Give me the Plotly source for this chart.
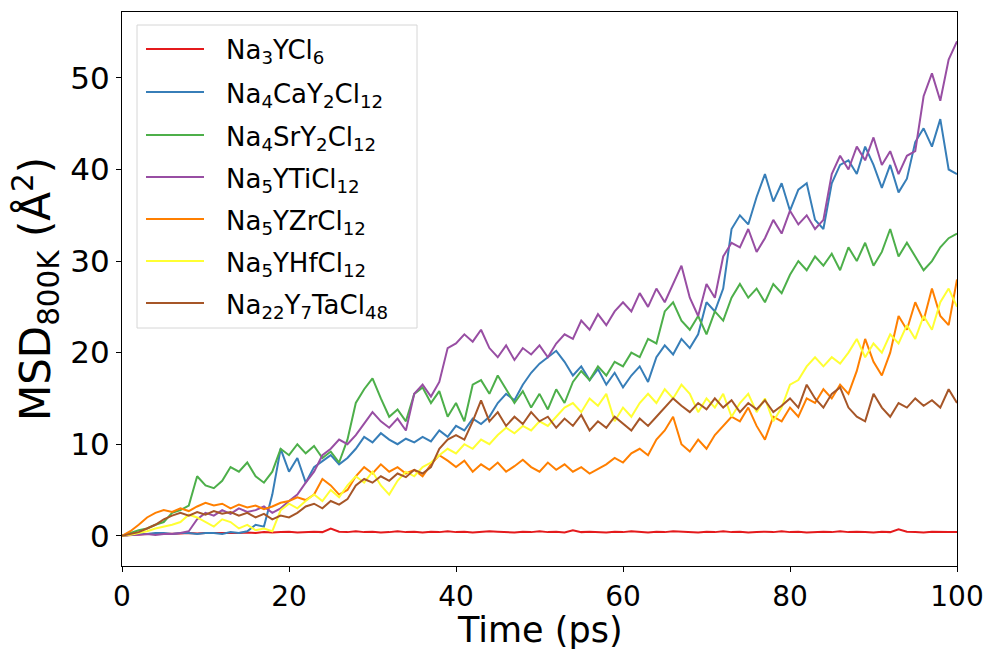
import plotly.graph_objects as go

time_ps = list(range(0, 101))

na3ycl6 = [0.0, 0.1, 0.15, 0.2, 0.2, 0.25, 0.2, 0.25, 0.3, 0.25, 0.3, 0.3, 0.25, 0.3, 0.3, 0.35, 0.3, 0.4, 0.35, 0.4,
           0.45, 0.35, 0.4, 0.45, 0.4, 0.8, 0.45, 0.4, 0.5, 0.4, 0.45, 0.35, 0.4, 0.5, 0.4, 0.45, 0.35, 0.45, 0.4, 0.5,
           0.4, 0.45, 0.35, 0.4, 0.5, 0.45, 0.4, 0.35, 0.45, 0.4, 0.5, 0.4, 0.45, 0.35, 0.6, 0.4, 0.45, 0.4, 0.35, 0.45,
           0.4, 0.5, 0.4, 0.35, 0.45, 0.4, 0.5, 0.45, 0.4, 0.35, 0.45, 0.4, 0.5, 0.4, 0.45, 0.35, 0.4, 0.45, 0.4, 0.5,
           0.4, 0.45, 0.35, 0.4, 0.45, 0.4, 0.5, 0.4, 0.45, 0.4, 0.35, 0.45, 0.4, 0.7, 0.45, 0.4, 0.35, 0.45, 0.4, 0.4, 0.4]

na4cay2cl12 = [0.0, 0.1, 0.2, 0.2, 0.3, 0.3, 0.2, 0.3, 0.3, 0.2, 0.3, 0.3, 0.2, 0.4, 0.3, 0.5, 1.2, 1.0, 4.5, 9.5,
               7.0, 8.5, 5.8, 7.5, 8.2, 8.8, 7.8, 8.5, 9.5, 10.8, 10.2, 11.2, 10.5, 10.0, 10.6, 10.2, 10.8, 10.3, 11.5, 10.8,
               12.0, 11.5, 12.8, 12.2, 13.0, 14.5, 15.5, 14.8, 16.5, 17.8, 18.8, 19.5, 20.2, 19.0, 17.5, 18.5, 17.0, 18.2, 16.5, 17.8,
               16.2, 17.5, 18.5, 16.8, 19.5, 20.8, 19.8, 21.5, 20.5, 22.0, 25.5, 24.5, 27.0, 33.5, 35.0, 34.0, 37.0, 39.5, 36.5, 38.5,
               35.5, 37.8, 38.5, 34.5, 33.5, 38.5, 40.5, 41.0, 39.5, 42.5, 40.5, 38.0, 40.5, 37.5, 39.0, 43.0, 44.5, 42.5, 45.5, 40.0, 39.5]

na4sry2cl12 = [0.0, 0.3, 0.6, 0.8, 1.2, 1.5, 2.5, 2.8, 3.3, 6.5, 5.5, 5.2, 6.0, 7.5, 7.0, 8.0, 6.5, 5.8, 7.0, 9.5,
               8.8, 10.0, 9.0, 9.8, 8.5, 9.2, 8.0, 10.5, 14.5, 16.0, 17.2, 15.0, 13.0, 13.8, 12.5, 15.5, 16.2, 14.5, 15.8, 13.0,
               14.5, 12.5, 16.5, 17.0, 15.5, 17.5, 16.0, 14.5, 15.8, 14.0, 15.5, 13.8, 16.0, 14.5, 16.8, 18.0, 17.0, 18.5, 17.5, 19.0,
               18.5, 20.0, 19.5, 21.5, 21.0, 24.5, 25.5, 23.5, 22.5, 24.0, 22.0, 24.5, 23.5, 26.0, 27.5, 26.0, 27.0, 25.5, 27.5, 26.5,
               28.5, 30.0, 29.0, 30.5, 29.5, 30.8, 29.0, 31.5, 30.0, 32.0, 29.5, 31.0, 33.5, 30.5, 32.0, 30.5, 29.0, 30.0, 31.5, 32.5, 33.0]

na5yticl12 = [0.0, 0.1, 0.1, 0.2, 0.1, 0.2, 0.2, 0.3, 0.5, 1.8, 2.5, 2.2, 2.8, 2.4, 3.0, 2.6, 2.8, 3.2, 2.5, 3.0,
              3.8, 4.5, 5.8, 7.0, 8.8, 9.5, 10.5, 10.0, 11.0, 12.2, 13.5, 12.5, 11.8, 12.8, 11.5, 15.5, 16.5, 15.2, 16.8, 20.5,
              21.0, 22.0, 21.2, 22.5, 20.5, 19.5, 20.8, 19.2, 20.5, 19.8, 20.8, 19.5, 21.0, 22.0, 21.5, 23.5, 22.5, 24.2, 23.0, 24.5,
              25.5, 24.5, 26.5, 25.0, 27.0, 25.5, 27.5, 29.5, 26.0, 24.0, 27.5, 26.0, 30.5, 32.0, 31.5, 33.5, 31.0, 32.5, 34.5, 33.0,
              35.5, 34.0, 35.0, 33.5, 34.5, 39.5, 41.5, 40.0, 42.5, 41.0, 43.5, 40.5, 42.0, 39.5, 41.5, 42.0, 48.0, 50.5, 47.5, 52.0, 54.0]

na5yzrcl12 = [0.0, 0.5, 1.2, 2.0, 2.5, 2.8, 2.6, 3.0, 2.7, 3.2, 3.6, 3.3, 3.5, 3.0, 3.4, 3.1, 3.3, 2.9, 3.2, 3.6,
              3.8, 4.2, 3.9, 4.5, 6.2, 5.5, 4.5, 5.0, 6.5, 7.5, 6.8, 7.8, 7.0, 7.5, 6.8, 7.2, 6.5, 7.8, 8.8, 8.2,
              7.5, 8.2, 7.0, 7.8, 7.2, 8.0, 7.0, 7.6, 8.3, 7.5, 7.0, 8.0, 7.2, 7.8, 7.0, 7.5, 6.8, 7.3, 7.8, 8.5,
              8.0, 9.0, 9.5, 8.8, 10.5, 11.5, 13.0, 10.0, 9.2, 10.5, 9.5, 11.0, 12.0, 13.0, 12.5, 14.0, 12.0, 10.5, 13.0, 12.5,
              14.0, 13.0, 15.0, 14.5, 16.0, 15.0, 16.5, 15.5, 18.0, 21.5, 19.0, 17.5, 20.0, 24.0, 22.5, 25.5, 23.5, 27.0, 24.0, 23.0, 28.0]

na5yhfcl12 = [0.0, 0.1, 0.3, 0.5, 0.8, 1.0, 1.2, 1.5, 2.3, 2.0, 1.5, 1.0, 1.8, 1.5, 0.8, 1.2, 0.6, 0.8, 0.5, 2.8,
              3.5, 3.0, 3.8, 4.5, 3.8, 5.0, 4.2, 5.5, 6.5, 5.8, 7.0, 5.5, 4.5, 6.0, 7.0, 6.5, 7.5, 8.0, 8.8, 9.5,
              9.0, 10.0, 9.5, 10.5, 10.0, 11.0, 11.8, 11.2, 12.0, 11.5, 12.5, 12.0, 13.0, 14.0, 14.5, 13.5, 15.0, 14.2, 15.5, 12.5,
              14.0, 13.0, 14.5, 15.5, 14.5, 16.0, 15.0, 16.5, 15.5, 13.5, 15.0, 14.0, 15.5, 13.0, 14.5, 15.5, 13.5, 15.0, 12.5, 14.0,
              16.5, 17.0, 18.5, 19.5, 18.5, 19.5, 18.8, 20.0, 21.5, 19.5, 21.0, 20.0, 22.0, 21.0, 23.0, 21.5, 24.0, 22.5, 25.5, 27.0, 25.0]

na22y7tacl48 = [0.0, 0.2, 0.4, 0.8, 1.2, 1.8, 2.2, 2.5, 2.2, 2.6, 2.3, 2.7, 2.4, 2.6, 2.2, 2.5, 2.0, 2.4, 1.8, 2.2,
                2.0, 2.5, 3.2, 3.5, 3.0, 3.8, 3.4, 4.0, 5.5, 6.2, 5.8, 6.5, 6.0, 6.8, 6.4, 7.2, 6.8, 7.5, 9.5, 10.5,
                11.0, 10.5, 12.5, 14.8, 12.5, 13.5, 12.0, 13.0, 12.2, 13.5, 12.5, 13.0, 11.8, 12.8, 12.0, 13.2, 11.5, 12.5, 11.8, 13.0,
                12.2, 11.5, 12.8, 12.0, 13.0, 14.0, 15.0, 14.2, 13.5, 14.5, 13.8, 15.0, 14.0, 14.8, 13.5, 14.5, 13.8, 14.8, 13.5, 14.2,
                15.0, 14.0, 16.5, 15.0, 14.0, 15.5, 16.2, 14.0, 13.0, 12.5, 15.5, 14.0, 13.0, 14.5, 14.0, 15.0, 14.2, 14.8, 14.0, 16.0, 14.5]

series_names = [
    "Na<sub>3</sub>YCl<sub>6</sub>",
    "Na<sub>4</sub>CaY<sub>2</sub>Cl<sub>12</sub>",
    "Na<sub>4</sub>SrY<sub>2</sub>Cl<sub>12</sub>",
    "Na<sub>5</sub>YTiCl<sub>12</sub>",
    "Na<sub>5</sub>YZrCl<sub>12</sub>",
    "Na<sub>5</sub>YHfCl<sub>12</sub>",
    "Na<sub>22</sub>Y<sub>7</sub>TaCl<sub>48</sub>",
]
series_values = [na3ycl6, na4cay2cl12, na4sry2cl12, na5yticl12, na5yzrcl12, na5yhfcl12, na22y7tacl48]
colors = ["#e41a1c", "#377eb8", "#4daf4a", "#984ea3", "#ff7f00", "#ffff33", "#a65628"]

x_ticks = [0, 20, 40, 60, 80, 100]
y_ticks = [0, 10, 20, 30, 40, 50]
x_title = "Time (ps)"
y_title = "MSD<sub>800K</sub> (Å<sup>2</sup>)"

FONT = "DejaVu Sans"

# plot area geometry in pixels (for the hand-built legend and x title)
W, H = 990, 652
ML, MR, MT, MB = 122, 33, 12, 86
PW, PH = W - ML - MR, H - MT - MB


def px_x(px):
    return (px - ML) / PW


def px_y(py):
    return (H - MB - py) / PH


fig = go.Figure()
for name, vals, col in zip(series_names, series_values, colors):
    fig.add_trace(go.Scatter(x=time_ps, y=vals, mode="lines", name=name,
                             line=dict(color=col, width=2), showlegend=False))

# legend box (matplotlib style, light-grey frame)
bx0, bx1, by0, by1 = px_x(137), px_x(417), px_y(25), px_y(328)
fig.add_shape(type="rect", xref="paper", yref="paper", x0=bx0, x1=bx1, y0=by1, y1=by0,
              line=dict(color="#d6d6d6", width=1), fillcolor="rgba(255,255,255,0.85)", layer="above")

legend_rows = [49, 92, 135, 177, 219, 261, 303]
for name, col, row in zip(series_names, colors, legend_rows):
    fig.add_shape(type="line", xref="paper", yref="paper",
                  x0=px_x(146), x1=px_x(204), y0=px_y(row), y1=px_y(row),
                  line=dict(color=col, width=2), layer="above")
    fig.add_annotation(xref="paper", yref="paper", x=px_x(224), y=px_y(row),
                       xanchor="left", yanchor="middle", yshift=-3, showarrow=False,
                       text=name, font=dict(size=26, family=FONT, color="black"))

# x axis title as a text placed under the tick labels, resting on the bottom edge
fig.add_annotation(xref="paper", yref="paper", x=0.5, y=px_y(H),
                   xanchor="center", yanchor="bottom", showarrow=False,
                   text=x_title, font=dict(size=35, family=FONT, color="black"))

fig.update_layout(
    width=W, height=H,
    margin=dict(l=ML, r=MR, t=MT, b=MB, autoexpand=False),
    paper_bgcolor="white", plot_bgcolor="white",
    font=dict(family=FONT, color="black"),
    showlegend=False,
)
fig.update_xaxes(range=[0, 100], tickvals=x_ticks, ticks="outside", ticklen=5, tickwidth=1,
                 tickcolor="black", showline=True, linecolor="black", linewidth=1, mirror=True,
                 showgrid=False, zeroline=False, tickfont=dict(size=28, family=FONT), automargin=False)
fig.update_yaxes(range=[-3.3, 57.2], tickvals=y_ticks, ticks="outside", ticklen=5, tickwidth=1,
                 tickcolor="black", showline=True, linecolor="black", linewidth=1, mirror=True,
                 showgrid=False, zeroline=False, tickfont=dict(size=31, family=FONT), automargin=False,
                 title=dict(text=y_title, font=dict(size=42, family=FONT), standoff=6))

fig.write_html("out.html")
